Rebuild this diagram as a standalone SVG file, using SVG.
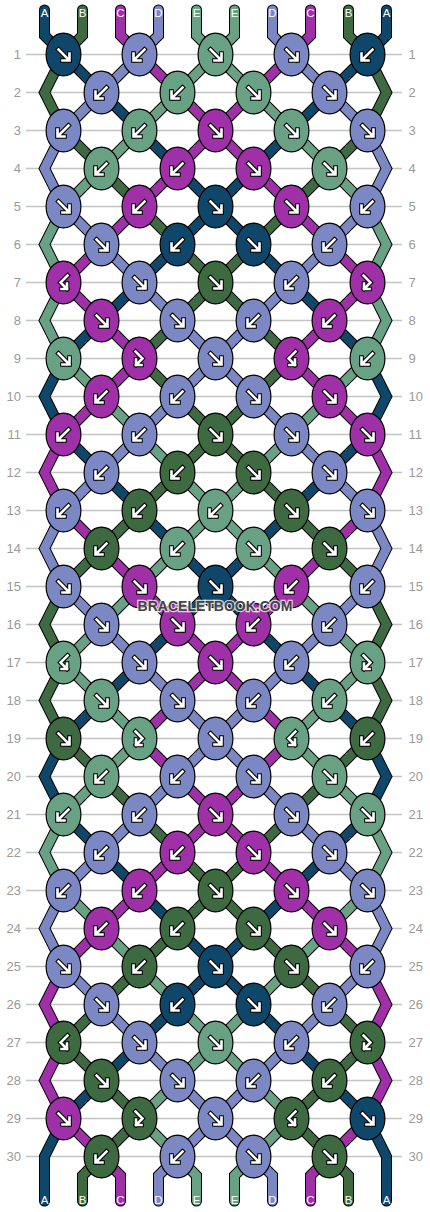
<svg xmlns="http://www.w3.org/2000/svg" xmlns:xlink="http://www.w3.org/1999/xlink" width="430" height="1212" viewBox="0 0 430 1212">
<style>
.rl{fill:none;stroke:#c4c4c4;stroke-width:1.3}
.num{font-family:"Liberation Sans",Arial,sans-serif;font-size:13px;fill:#9a9a9a}
.nl{text-anchor:end}
.ol{fill:none;stroke:#000;stroke-width:11;stroke-linejoin:miter;stroke-linecap:round}
.th{fill:none;stroke-width:9;stroke-linejoin:miter;stroke-linecap:round}
.sA{stroke:#0f476b}.sB{stroke:#3d6a41}.sC{stroke:#a030a8}.sD{stroke:#7c88c4}.sE{stroke:#68a184}
.A{fill:#0f476b}.B{fill:#3d6a41}.C{fill:#a030a8}.D{fill:#7c88c4}.E{fill:#68a184}
.kn{stroke:#000;stroke-width:1.2}
.ao{fill:none;stroke:#000;stroke-width:4.6;stroke-linecap:square;stroke-linejoin:miter}
.ai{fill:none;stroke:#fff;stroke-width:2.6;stroke-linecap:square;stroke-linejoin:miter}
.lt{font-family:"Liberation Sans",Arial,sans-serif;font-size:11.5px;fill:#fff;text-anchor:middle}
.wm{font-family:"Liberation Sans",Arial,sans-serif;font-weight:bold;font-size:14px;fill:#444;stroke:#fff;stroke-opacity:.75;stroke-width:2.5;paint-order:stroke;text-anchor:middle}
</style>
<defs>
<ellipse id="eA" class="kn A" rx="17.4" ry="21.4"/>
<ellipse id="eB" class="kn B" rx="17.4" ry="21.4"/>
<ellipse id="eC" class="kn C" rx="17.4" ry="21.4"/>
<ellipse id="eD" class="kn D" rx="17.4" ry="21.4"/>
<ellipse id="eE" class="kn E" rx="17.4" ry="21.4"/>
<g id="f"><path class="ao" d="M-5,-5L5.5,5.5M6,-1V6H-1"/><path class="ai" d="M-5,-5L5.5,5.5M6,-1V6H-1"/></g>
<g id="b"><path class="ao" d="M5,-5L-5.5,5.5M-6,-1V6H1"/><path class="ai" d="M5,-5L-5.5,5.5M-6,-1V6H1"/></g>
<g id="fb"><path class="ao" d="M-4,-7L3,0L-3.5,6.5M-3.5,1V6.5H2"/><path class="ai" d="M-4,-7L3,0L-3.5,6.5M-3.5,1V6.5H2"/></g>
<g id="bf"><path class="ao" d="M4,-7L-3,0L3.5,6.5M3.5,1V6.5H-2"/><path class="ai" d="M4,-7L-3,0L3.5,6.5M3.5,1V6.5H-2"/></g>
<path id="t0" d="M-19,-44.5V-19L0,0l304,304l19,38l-19,38l-304,304l-19,38l19,38l304,304l19,38v44.5"/>
<path id="t1" d="M19,-44.5V-19L0,0l-19,38l19,38l228,228l-228,228l-19,38l19,38l-19,38l19,38l304,304l-76,76l38,38l19,19v25.5"/>
<path id="t2" d="M57,-44.5V-19L76,0l228,228l-76,76l76,76l19,38l-19,38l-228,228l228,228l19,38l-19,38l19,38l-19,38l-38,38l-19,19v25.5"/>
<path id="t3" d="M95,-44.5V-19L76,0l-76,76l-19,38l19,38l304,304l19,38l-19,38l-304,304l-19,38l19,38l190,190l19,19v25.5"/>
<path id="t4" d="M133,-44.5V-19L152,0l152,152l19,38l-19,38l19,38l-19,38l-304,304l76,76l-76,76l-19,38l19,38l228,228l-38,38l-19,19v25.5"/>
</defs>
<rect width="430" height="1212" fill="#fff"/>
<g id="rows">
<path class="rl" d="M26,54.5H402M26,92.5H402M26,130.5H402M26,168.5H402M26,206.5H402M26,244.5H402M26,282.5H402M26,320.5H402M26,358.5H402M26,396.5H402M26,434.5H402M26,472.5H402M26,510.5H402M26,548.5H402M26,586.5H402M26,624.5H402M26,662.5H402M26,700.5H402M26,738.5H402M26,776.5H402M26,814.5H402M26,852.5H402M26,890.5H402M26,928.5H402M26,966.5H402M26,1004.5H402M26,1042.5H402M26,1080.5H402M26,1118.5H402M26,1156.5H402"/>
<g class="num nl">
<text x="21" y="59">1</text><text x="21" y="97">2</text><text x="21" y="135">3</text><text x="21" y="173">4</text><text x="21" y="211">5</text><text x="21" y="249">6</text><text x="21" y="287">7</text><text x="21" y="325">8</text><text x="21" y="363">9</text><text x="21" y="401">10</text><text x="21" y="439">11</text><text x="21" y="477">12</text><text x="21" y="515">13</text><text x="21" y="553">14</text><text x="21" y="591">15</text><text x="21" y="629">16</text><text x="21" y="667">17</text><text x="21" y="705">18</text><text x="21" y="743">19</text><text x="21" y="781">20</text><text x="21" y="819">21</text><text x="21" y="857">22</text><text x="21" y="895">23</text><text x="21" y="933">24</text><text x="21" y="971">25</text><text x="21" y="1009">26</text><text x="21" y="1047">27</text><text x="21" y="1085">28</text><text x="21" y="1123">29</text><text x="21" y="1161">30</text>
</g>
<g class="num">
<text x="408.5" y="59">1</text><text x="408.5" y="97">2</text><text x="408.5" y="135">3</text><text x="408.5" y="173">4</text><text x="408.5" y="211">5</text><text x="408.5" y="249">6</text><text x="408.5" y="287">7</text><text x="408.5" y="325">8</text><text x="408.5" y="363">9</text><text x="408.5" y="401">10</text><text x="408.5" y="439">11</text><text x="408.5" y="477">12</text><text x="408.5" y="515">13</text><text x="408.5" y="553">14</text><text x="408.5" y="591">15</text><text x="408.5" y="629">16</text><text x="408.5" y="667">17</text><text x="408.5" y="705">18</text><text x="408.5" y="743">19</text><text x="408.5" y="781">20</text><text x="408.5" y="819">21</text><text x="408.5" y="857">22</text><text x="408.5" y="895">23</text><text x="408.5" y="933">24</text><text x="408.5" y="971">25</text><text x="408.5" y="1009">26</text><text x="408.5" y="1047">27</text><text x="408.5" y="1085">28</text><text x="408.5" y="1123">29</text><text x="408.5" y="1161">30</text>
</g>
</g>
<g transform="translate(63.5,54.5)">
<g id="connectors">
<g class="ol">
<use href="#t0"/><use href="#t1"/><use href="#t2"/><use href="#t3"/><use href="#t4"/>
<use href="#t0" transform="matrix(-1,0,0,1,304,0)"/><use href="#t1" transform="matrix(-1,0,0,1,304,0)"/><use href="#t2" transform="matrix(-1,0,0,1,304,0)"/><use href="#t3" transform="matrix(-1,0,0,1,304,0)"/><use href="#t4" transform="matrix(-1,0,0,1,304,0)"/>
</g>
<use href="#t0" class="th sA"/><use href="#t1" class="th sB"/><use href="#t2" class="th sC"/><use href="#t3" class="th sD"/><use href="#t4" class="th sE"/>
<use href="#t0" class="th sA" transform="matrix(-1,0,0,1,304,0)"/><use href="#t1" class="th sB" transform="matrix(-1,0,0,1,304,0)"/><use href="#t2" class="th sC" transform="matrix(-1,0,0,1,304,0)"/><use href="#t3" class="th sD" transform="matrix(-1,0,0,1,304,0)"/><use href="#t4" class="th sE" transform="matrix(-1,0,0,1,304,0)"/>
</g>
<g id="labels" class="lt">
<text x="-19" y="-37.8">A</text><text x="19" y="-37.8">B</text><text x="57" y="-37.8">C</text><text x="95" y="-37.8">D</text><text x="133" y="-37.8">E</text><text x="171" y="-37.8">E</text><text x="209" y="-37.8">D</text><text x="247" y="-37.8">C</text><text x="285" y="-37.8">B</text><text x="323" y="-37.8">A</text>
<text x="-19" y="1149.5">A</text><text x="19" y="1149.5">B</text><text x="57" y="1149.5">C</text><text x="95" y="1149.5">D</text><text x="133" y="1149.5">E</text><text x="171" y="1149.5">E</text><text x="209" y="1149.5">D</text><text x="247" y="1149.5">C</text><text x="285" y="1149.5">B</text><text x="323" y="1149.5">A</text>
</g>
<g id="knots">
<g id="k1-1" transform="translate(0,0)"><use href="#eA"/><use href="#f"/></g>
<g id="k1-2" transform="translate(76,0)"><use href="#eD"/><use href="#b"/></g>
<g id="k1-3" transform="translate(152,0)"><use href="#eE"/><use href="#f"/></g>
<g id="k1-4" transform="translate(228,0)"><use href="#eD"/><use href="#f"/></g>
<g id="k1-5" transform="translate(304,0)"><use href="#eA"/><use href="#b"/></g>
<g id="k2-1" transform="translate(38,38)"><use href="#eD"/><use href="#b"/></g>
<g id="k2-2" transform="translate(114,38)"><use href="#eE"/><use href="#b"/></g>
<g id="k2-3" transform="translate(190,38)"><use href="#eE"/><use href="#f"/></g>
<g id="k2-4" transform="translate(266,38)"><use href="#eD"/><use href="#f"/></g>
<g id="k3-1" transform="translate(0,76)"><use href="#eD"/><use href="#b"/></g>
<g id="k3-2" transform="translate(76,76)"><use href="#eE"/><use href="#b"/></g>
<g id="k3-3" transform="translate(152,76)"><use href="#eC"/><use href="#f"/></g>
<g id="k3-4" transform="translate(228,76)"><use href="#eE"/><use href="#f"/></g>
<g id="k3-5" transform="translate(304,76)"><use href="#eD"/><use href="#f"/></g>
<g id="k4-1" transform="translate(38,114)"><use href="#eE"/><use href="#b"/></g>
<g id="k4-2" transform="translate(114,114)"><use href="#eC"/><use href="#b"/></g>
<g id="k4-3" transform="translate(190,114)"><use href="#eC"/><use href="#f"/></g>
<g id="k4-4" transform="translate(266,114)"><use href="#eE"/><use href="#f"/></g>
<g id="k5-1" transform="translate(0,152)"><use href="#eD"/><use href="#f"/></g>
<g id="k5-2" transform="translate(76,152)"><use href="#eC"/><use href="#b"/></g>
<g id="k5-3" transform="translate(152,152)"><use href="#eA"/><use href="#f"/></g>
<g id="k5-4" transform="translate(228,152)"><use href="#eC"/><use href="#f"/></g>
<g id="k5-5" transform="translate(304,152)"><use href="#eD"/><use href="#b"/></g>
<g id="k6-1" transform="translate(38,190)"><use href="#eD"/><use href="#f"/></g>
<g id="k6-2" transform="translate(114,190)"><use href="#eA"/><use href="#b"/></g>
<g id="k6-3" transform="translate(190,190)"><use href="#eA"/><use href="#f"/></g>
<g id="k6-4" transform="translate(266,190)"><use href="#eD"/><use href="#b"/></g>
<g id="k7-1" transform="translate(0,228)"><use href="#eC"/><use href="#bf"/></g>
<g id="k7-2" transform="translate(76,228)"><use href="#eD"/><use href="#f"/></g>
<g id="k7-3" transform="translate(152,228)"><use href="#eB"/><use href="#f"/></g>
<g id="k7-4" transform="translate(228,228)"><use href="#eD"/><use href="#b"/></g>
<g id="k7-5" transform="translate(304,228)"><use href="#eC"/><use href="#fb"/></g>
<g id="k8-1" transform="translate(38,266)"><use href="#eC"/><use href="#f"/></g>
<g id="k8-2" transform="translate(114,266)"><use href="#eD"/><use href="#f"/></g>
<g id="k8-3" transform="translate(190,266)"><use href="#eD"/><use href="#b"/></g>
<g id="k8-4" transform="translate(266,266)"><use href="#eC"/><use href="#b"/></g>
<g id="k9-1" transform="translate(0,304)"><use href="#eE"/><use href="#f"/></g>
<g id="k9-2" transform="translate(76,304)"><use href="#eC"/><use href="#fb"/></g>
<g id="k9-3" transform="translate(152,304)"><use href="#eD"/><use href="#f"/></g>
<g id="k9-4" transform="translate(228,304)"><use href="#eC"/><use href="#bf"/></g>
<g id="k9-5" transform="translate(304,304)"><use href="#eE"/><use href="#b"/></g>
<g id="k10-1" transform="translate(38,342)"><use href="#eC"/><use href="#b"/></g>
<g id="k10-2" transform="translate(114,342)"><use href="#eD"/><use href="#b"/></g>
<g id="k10-3" transform="translate(190,342)"><use href="#eD"/><use href="#f"/></g>
<g id="k10-4" transform="translate(266,342)"><use href="#eC"/><use href="#f"/></g>
<g id="k11-1" transform="translate(0,380)"><use href="#eC"/><use href="#b"/></g>
<g id="k11-2" transform="translate(76,380)"><use href="#eD"/><use href="#b"/></g>
<g id="k11-3" transform="translate(152,380)"><use href="#eB"/><use href="#f"/></g>
<g id="k11-4" transform="translate(228,380)"><use href="#eD"/><use href="#f"/></g>
<g id="k11-5" transform="translate(304,380)"><use href="#eC"/><use href="#f"/></g>
<g id="k12-1" transform="translate(38,418)"><use href="#eD"/><use href="#b"/></g>
<g id="k12-2" transform="translate(114,418)"><use href="#eB"/><use href="#b"/></g>
<g id="k12-3" transform="translate(190,418)"><use href="#eB"/><use href="#f"/></g>
<g id="k12-4" transform="translate(266,418)"><use href="#eD"/><use href="#f"/></g>
<g id="k13-1" transform="translate(0,456)"><use href="#eD"/><use href="#b"/></g>
<g id="k13-2" transform="translate(76,456)"><use href="#eB"/><use href="#b"/></g>
<g id="k13-3" transform="translate(152,456)"><use href="#eE"/><use href="#b"/></g>
<g id="k13-4" transform="translate(228,456)"><use href="#eB"/><use href="#f"/></g>
<g id="k13-5" transform="translate(304,456)"><use href="#eD"/><use href="#f"/></g>
<g id="k14-1" transform="translate(38,494)"><use href="#eB"/><use href="#b"/></g>
<g id="k14-2" transform="translate(114,494)"><use href="#eE"/><use href="#b"/></g>
<g id="k14-3" transform="translate(190,494)"><use href="#eE"/><use href="#f"/></g>
<g id="k14-4" transform="translate(266,494)"><use href="#eB"/><use href="#f"/></g>
<g id="k15-1" transform="translate(0,532)"><use href="#eD"/><use href="#f"/></g>
<g id="k15-2" transform="translate(76,532)"><use href="#eC"/><use href="#f"/></g>
<g id="k15-3" transform="translate(152,532)"><use href="#eA"/><use href="#f"/></g>
<g id="k15-4" transform="translate(228,532)"><use href="#eC"/><use href="#b"/></g>
<g id="k15-5" transform="translate(304,532)"><use href="#eD"/><use href="#b"/></g>
<g id="k16-1" transform="translate(38,570)"><use href="#eD"/><use href="#f"/></g>
<g id="k16-2" transform="translate(114,570)"><use href="#eC"/><use href="#f"/></g>
<g id="k16-3" transform="translate(190,570)"><use href="#eC"/><use href="#b"/></g>
<g id="k16-4" transform="translate(266,570)"><use href="#eD"/><use href="#b"/></g>
<g id="k17-1" transform="translate(0,608)"><use href="#eE"/><use href="#bf"/></g>
<g id="k17-2" transform="translate(76,608)"><use href="#eD"/><use href="#f"/></g>
<g id="k17-3" transform="translate(152,608)"><use href="#eC"/><use href="#f"/></g>
<g id="k17-4" transform="translate(228,608)"><use href="#eD"/><use href="#b"/></g>
<g id="k17-5" transform="translate(304,608)"><use href="#eE"/><use href="#fb"/></g>
<g id="k18-1" transform="translate(38,646)"><use href="#eE"/><use href="#f"/></g>
<g id="k18-2" transform="translate(114,646)"><use href="#eD"/><use href="#f"/></g>
<g id="k18-3" transform="translate(190,646)"><use href="#eD"/><use href="#b"/></g>
<g id="k18-4" transform="translate(266,646)"><use href="#eE"/><use href="#b"/></g>
<g id="k19-1" transform="translate(0,684)"><use href="#eB"/><use href="#f"/></g>
<g id="k19-2" transform="translate(76,684)"><use href="#eE"/><use href="#fb"/></g>
<g id="k19-3" transform="translate(152,684)"><use href="#eD"/><use href="#f"/></g>
<g id="k19-4" transform="translate(228,684)"><use href="#eE"/><use href="#bf"/></g>
<g id="k19-5" transform="translate(304,684)"><use href="#eB"/><use href="#b"/></g>
<g id="k20-1" transform="translate(38,722)"><use href="#eE"/><use href="#b"/></g>
<g id="k20-2" transform="translate(114,722)"><use href="#eD"/><use href="#b"/></g>
<g id="k20-3" transform="translate(190,722)"><use href="#eD"/><use href="#f"/></g>
<g id="k20-4" transform="translate(266,722)"><use href="#eE"/><use href="#f"/></g>
<g id="k21-1" transform="translate(0,760)"><use href="#eE"/><use href="#b"/></g>
<g id="k21-2" transform="translate(76,760)"><use href="#eD"/><use href="#b"/></g>
<g id="k21-3" transform="translate(152,760)"><use href="#eC"/><use href="#f"/></g>
<g id="k21-4" transform="translate(228,760)"><use href="#eD"/><use href="#f"/></g>
<g id="k21-5" transform="translate(304,760)"><use href="#eE"/><use href="#f"/></g>
<g id="k22-1" transform="translate(38,798)"><use href="#eD"/><use href="#b"/></g>
<g id="k22-2" transform="translate(114,798)"><use href="#eC"/><use href="#b"/></g>
<g id="k22-3" transform="translate(190,798)"><use href="#eC"/><use href="#f"/></g>
<g id="k22-4" transform="translate(266,798)"><use href="#eD"/><use href="#f"/></g>
<g id="k23-1" transform="translate(0,836)"><use href="#eD"/><use href="#b"/></g>
<g id="k23-2" transform="translate(76,836)"><use href="#eC"/><use href="#b"/></g>
<g id="k23-3" transform="translate(152,836)"><use href="#eB"/><use href="#f"/></g>
<g id="k23-4" transform="translate(228,836)"><use href="#eC"/><use href="#f"/></g>
<g id="k23-5" transform="translate(304,836)"><use href="#eD"/><use href="#f"/></g>
<g id="k24-1" transform="translate(38,874)"><use href="#eC"/><use href="#b"/></g>
<g id="k24-2" transform="translate(114,874)"><use href="#eB"/><use href="#b"/></g>
<g id="k24-3" transform="translate(190,874)"><use href="#eB"/><use href="#f"/></g>
<g id="k24-4" transform="translate(266,874)"><use href="#eC"/><use href="#f"/></g>
<g id="k25-1" transform="translate(0,912)"><use href="#eD"/><use href="#f"/></g>
<g id="k25-2" transform="translate(76,912)"><use href="#eB"/><use href="#b"/></g>
<g id="k25-3" transform="translate(152,912)"><use href="#eA"/><use href="#f"/></g>
<g id="k25-4" transform="translate(228,912)"><use href="#eB"/><use href="#f"/></g>
<g id="k25-5" transform="translate(304,912)"><use href="#eD"/><use href="#b"/></g>
<g id="k26-1" transform="translate(38,950)"><use href="#eD"/><use href="#f"/></g>
<g id="k26-2" transform="translate(114,950)"><use href="#eA"/><use href="#b"/></g>
<g id="k26-3" transform="translate(190,950)"><use href="#eA"/><use href="#f"/></g>
<g id="k26-4" transform="translate(266,950)"><use href="#eD"/><use href="#b"/></g>
<g id="k27-1" transform="translate(0,988)"><use href="#eB"/><use href="#bf"/></g>
<g id="k27-2" transform="translate(76,988)"><use href="#eD"/><use href="#f"/></g>
<g id="k27-3" transform="translate(152,988)"><use href="#eE"/><use href="#f"/></g>
<g id="k27-4" transform="translate(228,988)"><use href="#eD"/><use href="#b"/></g>
<g id="k27-5" transform="translate(304,988)"><use href="#eB"/><use href="#fb"/></g>
<g id="k28-1" transform="translate(38,1026)"><use href="#eB"/><use href="#f"/></g>
<g id="k28-2" transform="translate(114,1026)"><use href="#eD"/><use href="#f"/></g>
<g id="k28-3" transform="translate(190,1026)"><use href="#eD"/><use href="#b"/></g>
<g id="k28-4" transform="translate(266,1026)"><use href="#eB"/><use href="#b"/></g>
<g id="k29-1" transform="translate(0,1064)"><use href="#eC"/><use href="#f"/></g>
<g id="k29-2" transform="translate(76,1064)"><use href="#eB"/><use href="#fb"/></g>
<g id="k29-3" transform="translate(152,1064)"><use href="#eD"/><use href="#f"/></g>
<g id="k29-4" transform="translate(228,1064)"><use href="#eB"/><use href="#bf"/></g>
<g id="k29-5" transform="translate(304,1064)"><use href="#eA"/><use href="#f"/></g>
<g id="k30-1" transform="translate(38,1102)"><use href="#eB"/><use href="#b"/></g>
<g id="k30-2" transform="translate(114,1102)"><use href="#eD"/><use href="#b"/></g>
<g id="k30-3" transform="translate(190,1102)"><use href="#eD"/><use href="#f"/></g>
<g id="k30-4" transform="translate(266,1102)"><use href="#eB"/><use href="#f"/></g>
</g>
</g>
<text class="wm" x="215" y="611">BRACELETBOOK.COM</text>
</svg>
